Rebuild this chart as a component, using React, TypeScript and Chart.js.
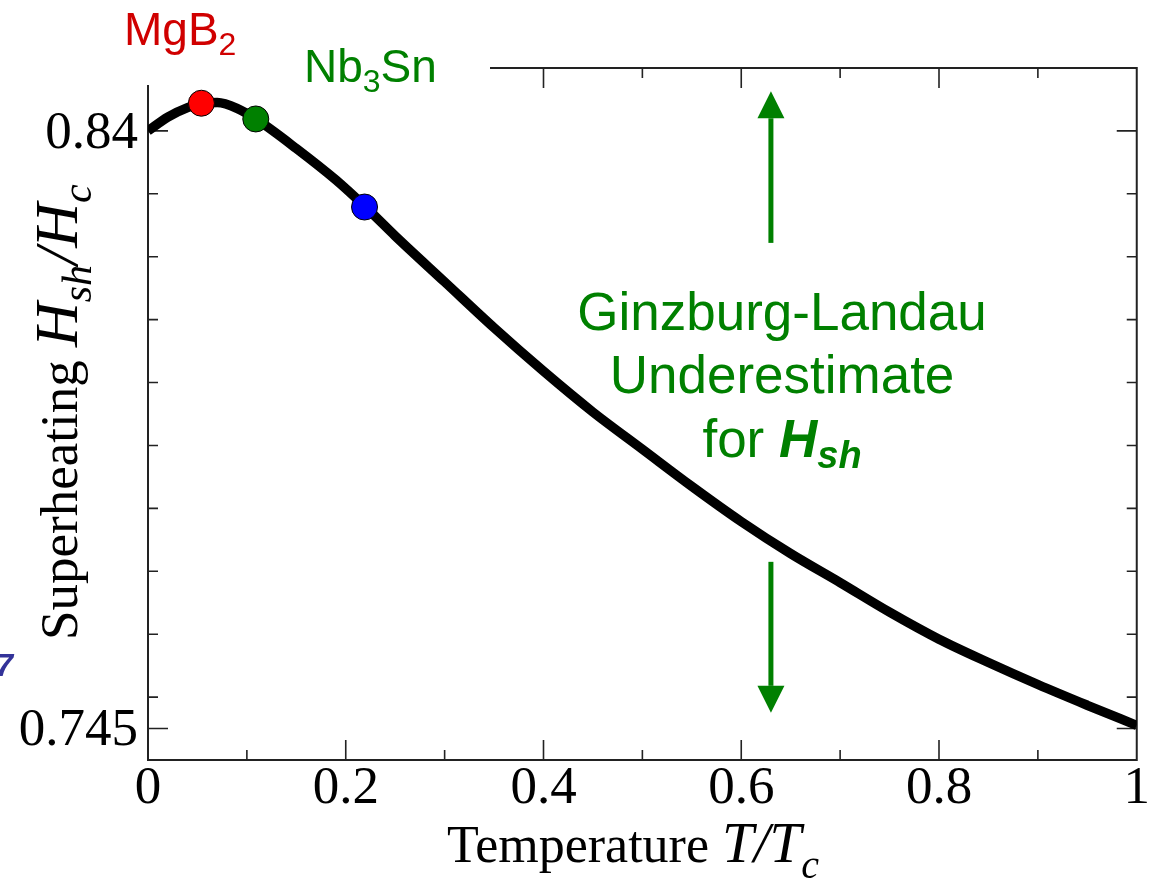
import React, { useEffect, useRef } from 'react';
import { Chart, registerables } from 'chart.js';

Chart.register(...registerables);

// ---- data ----
const temperature = [0, 0.02, 0.04, 0.055, 0.07, 0.09, 0.11, 0.15, 0.19, 0.22, 0.25, 0.3, 0.35, 0.4, 0.45, 0.5, 0.55, 0.6, 0.65, 0.7, 0.75, 0.8, 0.85, 0.9, 0.95, 1.0];
const superheating = [0.84, 0.8422, 0.8437, 0.8444, 0.8445, 0.8436, 0.8418, 0.8372, 0.8322, 0.8279, 0.8233, 0.816, 0.8087, 0.8018, 0.7953, 0.7894, 0.7835, 0.7779, 0.7728, 0.7682, 0.7635, 0.7592, 0.7555, 0.752, 0.7487, 0.7455];

const markerNames = ['MgB2', 'Nb3Sn', 'other'];
const markerT = [0.054, 0.109, 0.219];
const markerH = [0.8444, 0.8419, 0.8279];
const markerColors = ['#ff0000', '#008000', '#0000ff'];

const xMajorTicks = [0, 0.2, 0.4, 0.6, 0.8, 1];
const xMinorTicks = [0.1, 0.3, 0.5, 0.7, 0.9];
const xTickLabels = ['0', '0.2', '0.4', '0.6', '0.8', '1'];
const yMajorTicks = [0.745, 0.84];
const yMinorTicks = [0.75, 0.76, 0.77, 0.78, 0.79, 0.8, 0.81, 0.82, 0.83];
const yTickLabels = ['0.745', '0.84'];

const arrowT = 0.63;
const arrowUp = [0.8222, 0.8463];
const arrowDown = [0.7715, 0.7475];

const SERIF = '"Liberation Serif", "DejaVu Serif", serif';
const SANS = '"Liberation Sans", Arial, sans-serif';
const GREEN = '#008000';

type Run = { text: string; font: string; dy?: number };

function drawRuns(ctx: CanvasRenderingContext2D, runs: Run[], x: number, y: number) {
  let cx = x;
  for (const r of runs) {
    ctx.font = r.font;
    ctx.fillText(r.text, cx, y + (r.dy || 0));
    cx += ctx.measureText(r.text).width;
  }
  return cx - x;
}

function runsWidth(ctx: CanvasRenderingContext2D, runs: Run[]) {
  let w = 0;
  for (const r of runs) {
    ctx.font = r.font;
    w += ctx.measureText(r.text).width;
  }
  return w;
}

const framePlugin = {
  id: 'frame',
  beforeDatasetsDraw(chart: any) {
    const { ctx, chartArea: a, scales } = chart;
    const xs = scales.x;
    const ys = scales.y;
    ctx.save();
    ctx.strokeStyle = '#222';
    ctx.lineWidth = 2;
    ctx.lineCap = 'butt';
    ctx.beginPath();
    // left (top-left corner is covered in the reference)
    ctx.moveTo(a.left, 85);
    ctx.lineTo(a.left, a.bottom);
    ctx.lineTo(a.right, a.bottom);
    ctx.lineTo(a.right, a.top);
    ctx.lineTo(490, a.top);
    ctx.stroke();
    ctx.lineWidth = 1.6;
    ctx.beginPath();
    const xt = [...xMajorTicks.map((v) => [v, 20]), ...xMinorTicks.map((v) => [v, 10])];
    for (const [v, len] of xt) {
      if (v <= 0 || v >= 1) continue;
      const px = xs.getPixelForValue(v);
      ctx.moveTo(px, a.bottom);
      ctx.lineTo(px, a.bottom - len);
      if (px > 490) {
        ctx.moveTo(px, a.top);
        ctx.lineTo(px, a.top + len);
      }
    }
    const yt = [...yMajorTicks.map((v) => [v, 20]), ...yMinorTicks.map((v) => [v, 10])];
    for (const [v, len] of yt) {
      const py = ys.getPixelForValue(v);
      if (py > 85) {
        ctx.moveTo(a.left, py);
        ctx.lineTo(a.left + len, py);
      }
      ctx.moveTo(a.right, py);
      ctx.lineTo(a.right - len, py);
    }
    ctx.stroke();
    ctx.restore();
  },
};

const textPlugin = {
  id: 'texts',
  afterDraw(chart: any) {
    const { ctx, scales } = chart;
    const xs = scales.x;
    const ys = scales.y;
    ctx.save();
    ctx.textBaseline = 'alphabetic';
    ctx.textAlign = 'left';

    // material labels
    ctx.fillStyle = '#d00000';
    drawRuns(ctx, [
      { text: 'MgB', font: `46px ${SANS}` },
      { text: '2', font: `32px ${SANS}`, dy: 10 },
    ], 124, 45);
    ctx.fillStyle = GREEN;
    drawRuns(ctx, [
      { text: 'Nb', font: `46px ${SANS}` },
      { text: '3', font: `32px ${SANS}`, dy: 10 },
      { text: 'Sn', font: `46px ${SANS}` },
    ], 304, 82);

    // Ginzburg-Landau annotation
    const cx = 782;
    ctx.fillStyle = GREEN;
    ctx.textAlign = 'center';
    ctx.font = `53px ${SANS}`;
    ctx.fillText('Ginzburg-Landau', cx, 330);
    ctx.fillText('Underestimate', cx, 393);
    ctx.textAlign = 'left';
    const line3: Run[] = [
      { text: 'for ', font: `53px ${SANS}` },
      { text: 'H', font: `italic bold 53px ${SANS}` },
      { text: 'sh', font: `italic bold 38px ${SANS}`, dy: 11 },
    ];
    const w3 = runsWidth(ctx, line3);
    drawRuns(ctx, line3, cx - w3 / 2, 457);

    // arrows
    const ax = xs.getPixelForValue(arrowT);
    const drawArrow = (from: number, to: number) => {
      const y0 = ys.getPixelForValue(from);
      const y1 = ys.getPixelForValue(to);
      const dir = y1 < y0 ? -1 : 1;
      const headLen = 27;
      const yb = y1 - dir * headLen;
      ctx.fillStyle = GREEN;
      ctx.fillRect(ax - 2.5, Math.min(y0, yb), 5, Math.abs(yb - y0));
      ctx.beginPath();
      ctx.moveTo(ax, y1);
      ctx.lineTo(ax - 13.5, yb);
      ctx.lineTo(ax + 13.5, yb);
      ctx.closePath();
      ctx.fill();
    };
    drawArrow(arrowUp[0], arrowUp[1]);
    drawArrow(arrowDown[0], arrowDown[1]);

    // axis titles
    ctx.fillStyle = '#000';
    drawRuns(ctx, [
      { text: 'Temperature ', font: `52px ${SERIF}` },
      { text: 'T/T', font: `italic 57px ${SERIF}` },
      { text: 'c', font: `italic 40px ${SERIF}`, dy: 16 },
    ], 447, 862);

    ctx.save();
    ctx.translate(77, 640);
    ctx.rotate(-Math.PI / 2);
    drawRuns(ctx, [
      { text: 'Superheating ', font: `53px ${SERIF}` },
      { text: 'H', font: `italic 62px ${SERIF}` },
      { text: 'sh', font: `italic 42px ${SERIF}`, dy: 14 },
      { text: '/', font: `italic 62px ${SERIF}` },
      { text: 'H', font: `italic 62px ${SERIF}` },
      { text: 'c', font: `italic 42px ${SERIF}`, dy: 14 },
    ], 0, 0);
    ctx.restore();

    // partially visible glyph at left edge
    ctx.fillStyle = '#333399';
    ctx.font = `italic bold 32px ${SANS}`;
    ctx.textAlign = 'right';
    ctx.fillText('7', 13, 676);
    ctx.restore();
  },
};

export default function App() {
  const ref = useRef<HTMLCanvasElement | null>(null);
  useEffect(() => {
    if (!ref.current) return;
    const chart = new Chart(ref.current, {
      type: 'line',
      data: {
        datasets: [
          {
            type: 'scatter',
            label: 'materials',
            data: markerT.map((t, i) => ({ x: t, y: markerH[i] })),
            pointRadius: 13,
            pointHoverRadius: 13,
            pointBackgroundColor: markerColors,
            pointBorderColor: '#000',
            pointBorderWidth: 1,
            showLine: false,
            order: 0,
          } as any,
          {
            label: 'Hsh/Hc',
            data: temperature.map((t, i) => ({ x: t, y: superheating[i] })),
            borderColor: '#000',
            borderWidth: 9.5,
            pointRadius: 0,
            cubicInterpolationMode: 'monotone',
            fill: false,
            order: 1,
          },
        ],
      },
      options: {
        responsive: false,
        animation: false,
        events: [],
        layout: { padding: { left: 0, top: 68, right: 15, bottom: 0 } },
        plugins: { legend: { display: false }, tooltip: { enabled: false }, title: { display: false } },
        scales: {
          x: {
            type: 'linear',
            min: 0,
            max: 1,
            border: { display: false },
            grid: { display: false, drawTicks: false },
            afterBuildTicks: (s: any) => {
              s.ticks = xMajorTicks.map((v) => ({ value: v }));
            },
            afterFit: (s: any) => {
              s.height = 119;
            },
            ticks: {
              autoSkip: false,
              maxRotation: 0,
              padding: 3,
              color: '#000',
              font: { family: SERIF, size: 53, lineHeight: 1 },
              callback: (v: any) => {
                const i = xMajorTicks.findIndex((m) => Math.abs(m - v) < 1e-9);
                return i >= 0 ? xTickLabels[i] : '';
              },
            },
          },
          y: {
            type: 'linear',
            min: 0.74,
            max: 0.85,
            border: { display: false },
            grid: { display: false, drawTicks: false },
            afterBuildTicks: (s: any) => {
              s.ticks = yMajorTicks.map((v) => ({ value: v }));
            },
            afterFit: (s: any) => {
              s.width = 148;
            },
            ticks: {
              autoSkip: false,
              padding: 10,
              labelOffset: 3,
              color: '#000',
              font: { family: SERIF, size: 53, lineHeight: 1 },
              callback: (v: any) => {
                const i = yMajorTicks.findIndex((m) => Math.abs(m - v) < 1e-9);
                return i >= 0 ? yTickLabels[i] : '';
              },
            },
          },
        },
      },
      plugins: [framePlugin, textPlugin],
    });
    return () => chart.destroy();
  }, []);
  return (
    <div style={{ position: 'absolute', left: 0, top: 0, width: 1153, height: 879, background: '#fff' }}>
      <canvas ref={ref} width={1153} height={879} style={{ display: 'block' }} />
    </div>
  );
}
